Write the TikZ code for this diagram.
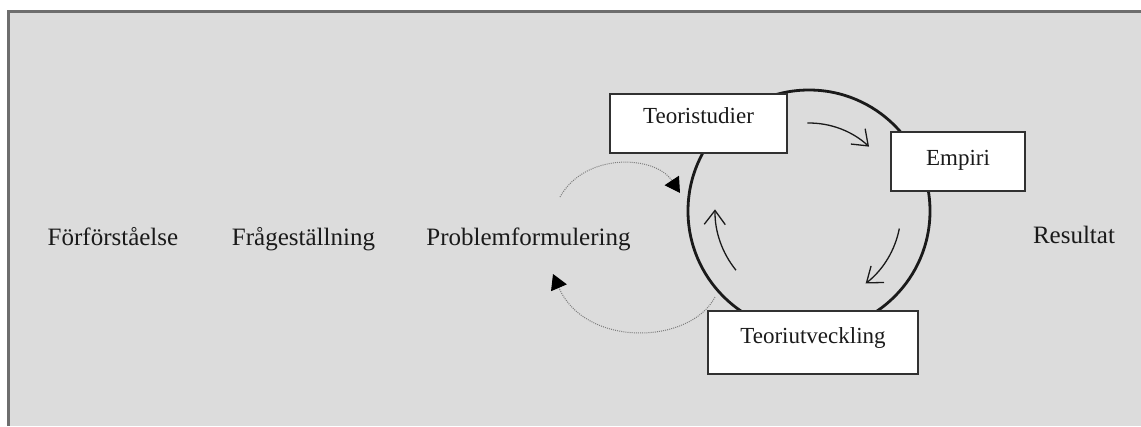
\documentclass[tikz,border=0pt]{standalone}
\usepackage{fontspec}
\setmainfont{Liberation Serif}
\usetikzlibrary{arrows.meta}
\definecolor{panel}{HTML}{DCDCDC}
\definecolor{frameline}{HTML}{6E6E6E}
\definecolor{ink}{HTML}{1A1A1A}
\definecolor{dotline}{HTML}{7E7E7E}

\begin{document}
\begin{tikzpicture}[x=1pt,y=-1pt,
  stage/.style={anchor=base, text=ink, font=\fontsize{25}{30}\selectfont, inner sep=0},
  phase/.style={draw=ink!90, line width=1.8, fill=white, text=ink,
    font=\fontsize{23}{28}\selectfont, inner sep=0, anchor=north},
  cycle/.style={line width=2.8, draw=ink},
  turn/.style={line width=1.3, draw=ink, -{Straight Barb[length=14pt,width=21pt]}},
  loop/.style={line width=1, draw=dotline, dash pattern=on 1pt off 1.1pt,
    -{Triangle[length=15pt,width=17pt,color=black]}}
]
\useasboundingbox (0,0) rectangle (1141,426);

% grey panel with its frame along the top and left
\fill[white] (0,0) rectangle (1141,426);
\fill[panel] (8.5,11.5) rectangle (1141,426);
\draw[frameline, line width=3] (8.5,426) -- (8.5,11.5) -- (1141,11.5);

% research cycle
\coordinate (hub) at (809,211);
\draw[cycle] (hub) circle[radius=121];

% stages of the cycle
\node[phase, minimum width=177, text height=30, text depth=29] (teori) at (698.5,93) {Teoristudier};
\node[phase, minimum width=134, text height=34, text depth=25] (empiri) at (958,131) {Empiri};
\node[phase, minimum width=210, text height=33, text depth=30] (utv) at (813,310) {Teoriutveckling};

% direction of the cycle
\draw[turn] (hub) ++(-91:88) arc[start angle=-91, end angle=-47, radius=88];
\draw[turn] (hub) ++(11:92) arc[start angle=11, end angle=52, radius=92];
\draw[turn] (hub) ++(141:94) arc[start angle=141, end angle=181, radius=94];

% linear stages
\node[stage] (forf) at (113,245) {Förförståelse};
\node[stage] (frag) at (303.5,245) {Frågeställning};
\node[stage] (prob) at (528.5,245) {Problemformulering};
\node[stage] (res) at (1074,243) {Resultat};

% feedback between problem formulation and the cycle
\draw[loop] (560,197) .. controls (585,152) and (655,155) .. (680,193);
\draw[loop] (715,297) .. controls (690,345) and (585,348) .. (553,274);
\end{tikzpicture}
\end{document}
